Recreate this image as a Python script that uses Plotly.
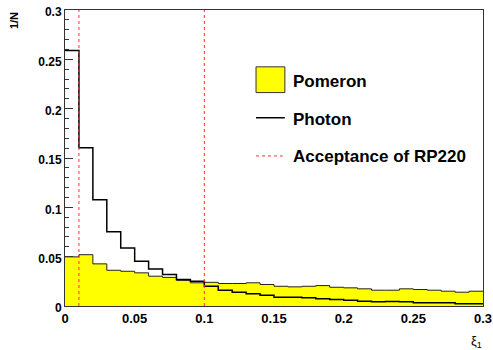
import plotly.graph_objects as go

# ---- data ----
bin_edges = [0.00, 0.01, 0.02, 0.03, 0.04, 0.05, 0.06, 0.07, 0.08, 0.09,
             0.10, 0.11, 0.12, 0.13, 0.14, 0.15, 0.16, 0.17, 0.18, 0.19,
             0.20, 0.21, 0.22, 0.23, 0.24, 0.25, 0.26, 0.27, 0.28, 0.29, 0.30]
pomeron = [0.0498, 0.052, 0.0427, 0.0362, 0.0352, 0.0336, 0.0302, 0.029, 0.026, 0.0235,
           0.024, 0.0228, 0.0228, 0.0235, 0.0218, 0.020, 0.0194, 0.020, 0.0207, 0.019,
           0.0184, 0.0174, 0.016, 0.016, 0.0174, 0.0167, 0.016, 0.015, 0.014, 0.015]
photon = [0.259, 0.1604, 0.1077, 0.0752, 0.0589, 0.0453, 0.0376, 0.0319, 0.0268, 0.025,
          0.020, 0.016, 0.014, 0.0123, 0.011, 0.0089, 0.0089, 0.0083, 0.0073, 0.0066,
          0.0059, 0.0049, 0.0044, 0.0046, 0.0043, 0.0032, 0.0032, 0.0032, 0.0022, 0.0022]
acceptance = [0.01, 0.10]
x_ticks = [0, 0.05, 0.1, 0.15, 0.2, 0.25, 0.3]
x_labels = ["0", "0.05", "0.1", "0.15", "0.2", "0.25", "0.3"]
y_ticks = [0, 0.05, 0.1, 0.15, 0.2, 0.25, 0.3]
y_labels = ["0", "0.05", "0.1", "0.15", "0.2", "0.25", "0.3"]
x_range = [0, 0.3]
y_range = [0, 0.3]

FONT = "Liberation Sans, Arial, sans-serif"

fig = go.Figure()

fig.add_trace(go.Scatter(
    x=bin_edges, y=pomeron + [pomeron[-1]], mode="lines", line_shape="hv",
    fill="tozeroy", fillcolor="#ffff00", line=dict(color="#222222", width=1),
    name="Pomeron", showlegend=False, hoverinfo="skip"))

fig.add_trace(go.Scatter(
    x=bin_edges, y=photon + [photon[-1]], mode="lines", line_shape="hv",
    line=dict(color="#000000", width=1.5), name="Photon", showlegend=False,
    hoverinfo="skip"))

ax, ay = [], []
for a in acceptance:
    ax += [a, a, None]
    ay += [y_range[0], y_range[1], None]
fig.add_trace(go.Scatter(
    x=ax, y=ay, mode="lines", line=dict(color="#ff3030", width=1, dash="3px,3px"),
    name="Acceptance of RP220", showlegend=False, hoverinfo="skip"))

axis_common = dict(showline=True, linecolor="#333333", linewidth=1, mirror=True,
                   showgrid=False, zeroline=False, layer="below traces",
                   automargin=False)
fig.update_xaxes(range=x_range, tickvals=x_ticks, ticktext=x_labels, ticks="",
                 tickfont=dict(family=FONT, size=13, color="black", weight="bold"),
                 **axis_common)
fig.update_yaxes(range=y_range, tickvals=y_ticks, ticktext=y_labels,
                 ticks="inside", ticklen=8, tickcolor="#333333",
                 minor=dict(dtick=0.01, ticks="inside", ticklen=4, tickcolor="#333333"),
                 tickfont=dict(family=FONT, size=12, color="black", weight="bold"),
                 ticklabelshift=2,
                 **axis_common)

# legend (drawn manually, ROOT style)
shapes = [
    dict(type="rect", xref="paper", yref="paper", x0=0.457, x1=0.526, y0=0.721, y1=0.808,
         fillcolor="#ffff00", line=dict(color="#333333", width=1)),
    dict(type="line", xref="paper", yref="paper", x0=0.457, x1=0.526, y0=0.636, y1=0.636,
         line=dict(color="black", width=1.5)),
    dict(type="line", xref="paper", yref="paper", x0=0.457, x1=0.521, y0=0.507, y1=0.507,
         line=dict(color="#ff3030", width=1, dash="3px,3px")),
]
annotations = [
    dict(text="Pomeron", xref="paper", yref="paper", x=0.540, y=0.760, xanchor="left",
         yanchor="middle", showarrow=False,
         font=dict(family=FONT, size=17, color="black", weight="bold")),
    dict(text="Photon", xref="paper", yref="paper", x=0.540, y=0.630, xanchor="left",
         yanchor="middle", showarrow=False,
         font=dict(family=FONT, size=17, color="black", weight="bold")),
    dict(text="Acceptance of RP220", xref="paper", yref="paper", x=0.540, y=0.505,
         xanchor="left", yanchor="middle", showarrow=False,
         font=dict(family=FONT, size=17, color="black", weight="bold")),
    dict(text="1/N", xref="paper", yref="paper", x=-0.123, y=1.0, xanchor="center",
         yanchor="top", textangle=-90, showarrow=False,
         font=dict(family=FONT, size=11, color="black", weight="bold")),
    dict(text="ξ<sub>1</sub>", xref="paper", yref="paper", x=0.985, y=-0.085,
         xanchor="center", yanchor="top", showarrow=False,
         font=dict(family=FONT, size=13, color="black")),
]

fig.update_layout(
    width=493, height=350, margin=dict(l=65, r=10, t=10, b=44),
    paper_bgcolor="white", plot_bgcolor="white", showlegend=False,
    shapes=shapes, annotations=annotations)

fig.write_html("out.html", config={"displayModeBar": False},
               post_script="document.body.style.margin='0';")
